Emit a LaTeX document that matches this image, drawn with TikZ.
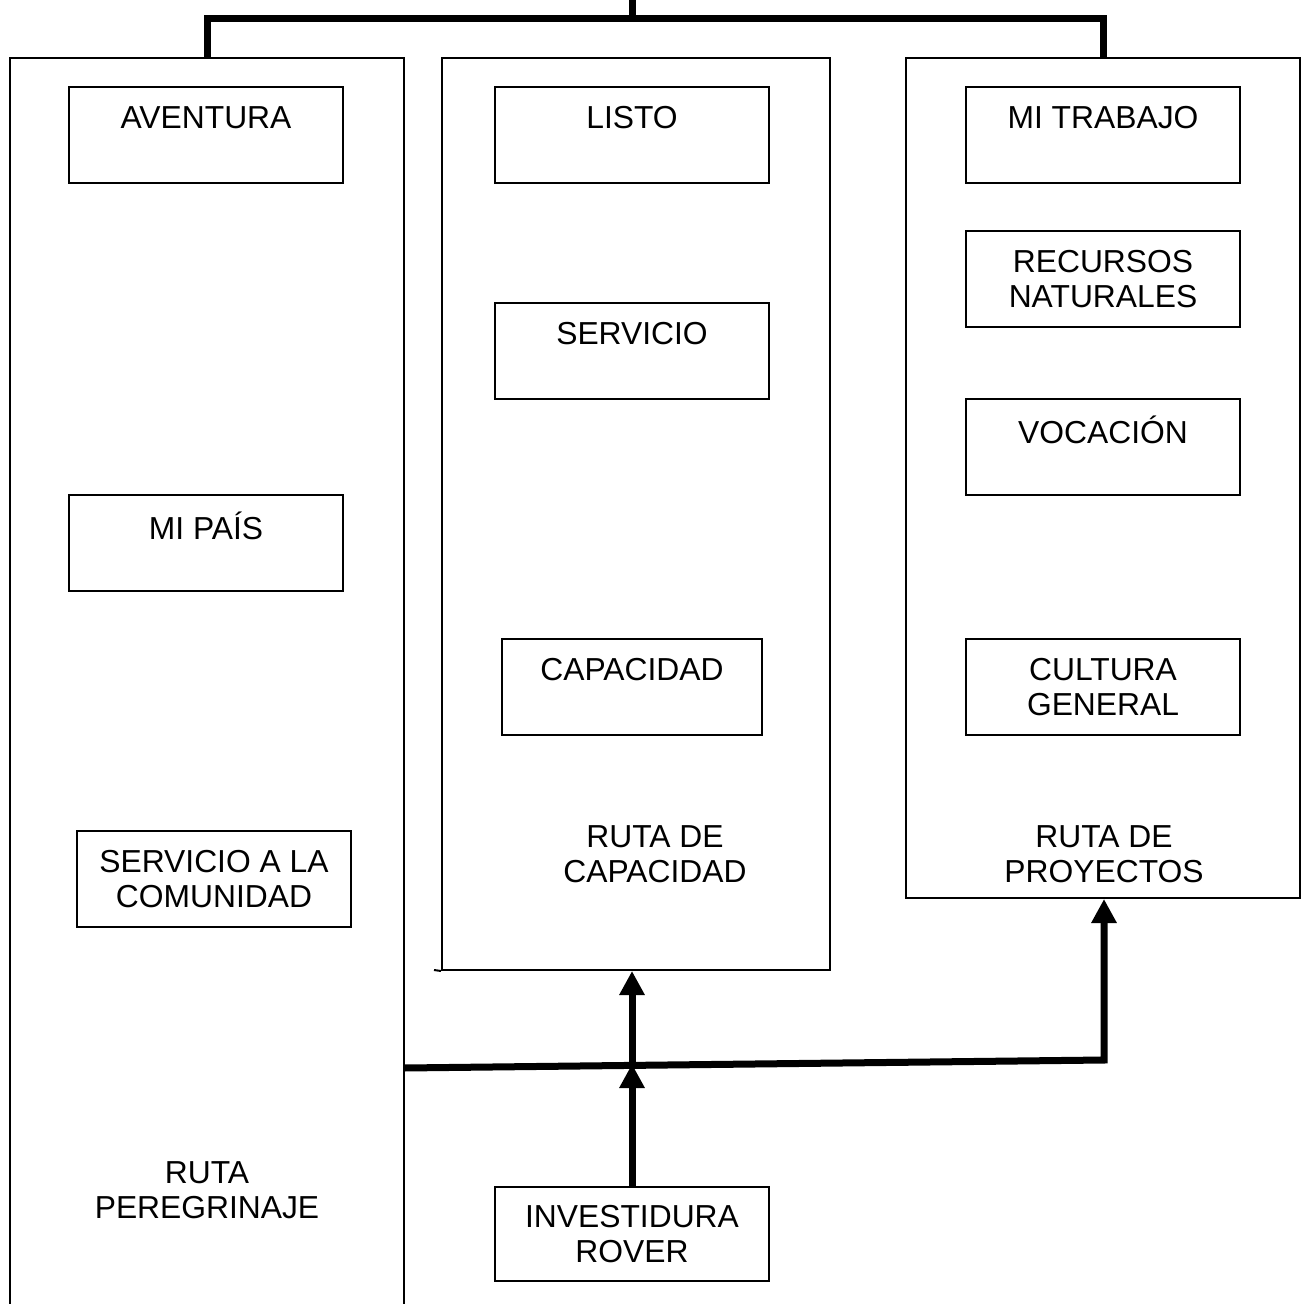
\documentclass[tikz,border=0pt]{standalone}
\usepackage{fontspec}
\setmainfont{Liberation Sans}
\usetikzlibrary{arrows.meta}
\begin{document}
\begin{tikzpicture}[x=0.5pt,y=-0.5pt,
    box/.style={draw,line width=1pt,minimum width=137pt,minimum height=48pt,
      align=center,inner sep=0pt,font=\fontsize{15.9}{17.6}\selectfont},
    col/.style={draw,line width=1pt,inner sep=0pt},
    lbl/.style={align=center,inner sep=0pt,font=\fontsize{15.9}{17.6}\selectfont},
    bus/.style={line width=3.5pt},
    tip/.style={-{Triangle[length=12pt,width=12pt]}}]
    \useasboundingbox (0,0) rectangle (1303,1304);
    \clip (0,0) rectangle (1303,1304);

    % Columns
    \node[col,minimum width=197pt,minimum height=631pt] (colL) at (207,689) {};
    \node[col,minimum width=194pt,minimum height=456pt] (colM) at (636,514) {};
    \node[col,minimum width=197pt,minimum height=420pt] (colR) at (1103,478) {};
    \draw[line width=1pt] (434,970) -- (colM.south west);

    % Boxes of the left column
    \node[box] (aventura) at (206,135) {AVENTURA\\ \mbox{}};
    \node[box] (mipais) at (206,543) {MI PAÍS\\ \mbox{}};
    \node[box] (servcom) at (214,879) {SERVICIO A LA\\ COMUNIDAD};
    \node[lbl] (rutaL) at (207,1190) {RUTA\\ PEREGRINAJE};

    % Boxes of the middle column
    \node[box] (listo) at (632,135) {LISTO\\ \mbox{}};
    \node[box] (servicio) at (632,351) {SERVICIO\\ \mbox{}};
    \node[box,minimum width=130pt] (capacidad) at (632,687) {CAPACIDAD\\ \mbox{}};
    \node[lbl] (rutaM) at (655,854) {RUTA DE\\ CAPACIDAD};

    % Boxes of the right column
    \node[box] (mitrabajo) at (1103,135) {MI TRABAJO\\ \mbox{}};
    \node[box] (recursos) at (1103,279) {RECURSOS\\ NATURALES};
    \node[box] (vocacion) at (1103,447) {VOCACIÓN\\ \mbox{}};
    \node[box] (cultura) at (1103,687) {CULTURA\\ GENERAL};
    \node[lbl] (rutaR) at (1104,854) {RUTA DE\\ PROYECTOS};

    % Start
    \node[box,minimum height=47pt] (rover) at (632,1234) {INVESTIDURA\\ ROVER};

    % Coordinates
    \coordinate (top) at (632,0);
    \coordinate (busT) at (632,19);
    \coordinate (busL) at (404,1068);
    \coordinate (busM) at (632,1064);
    \coordinate (busR) at (1104,1060);

    % Draw the connectors
    \draw[bus] (top) -- (busT);
    \draw[bus] (colL.north) |- (busT) -| (colR.north);
    \draw[bus,tip] (busL) -- (busR) -- (busR |- colR.south);
    \draw[bus,tip] (rover.north) -- (busM);
    \draw[bus,tip] (busM) -- (busM |- colM.south);
\end{tikzpicture}
\end{document}
